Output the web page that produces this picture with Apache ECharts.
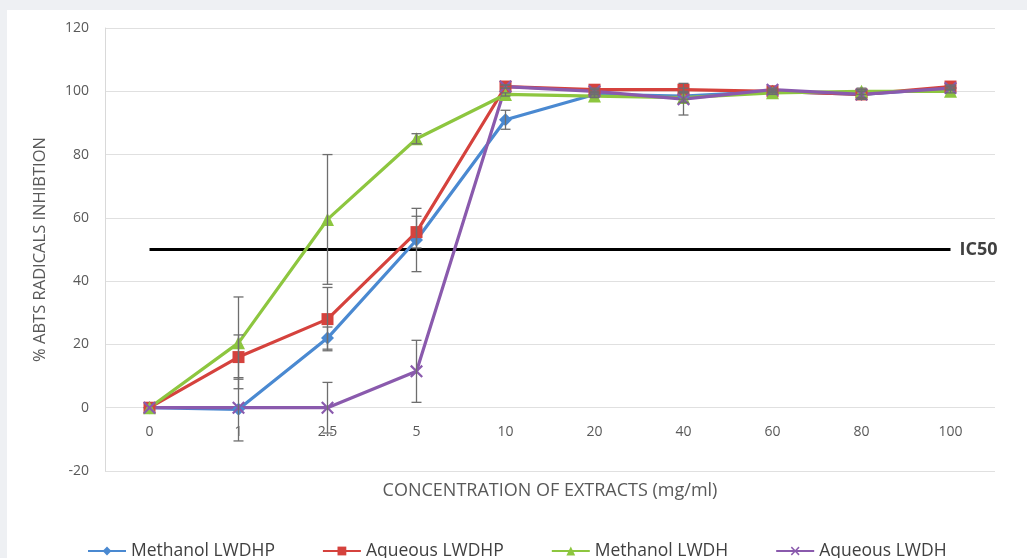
<!DOCTYPE html>
<html>
<head>
<meta charset="utf-8">
<script src="https://cdn.jsdelivr.net/npm/echarts@6/dist/echarts.min.js"></script>
<style>
  html, body { margin: 0; padding: 0; background: #eef0f3; }
  #chart { position: absolute; left: 7px; top: 10px; width: 1020px; height: 548px; background: #ffffff; }
</style>
</head>
<body>
<div id="chart"></div>
<script>
// 数据
var categories = ['0', '1', '2.5', '5', '10', '20', '40', '60', '80', '100'];

var methanolLWDHP = [0, -0.5, 22, 53, 91, 99, 98.5, 100, 99, 101];
var aqueousLWDHP  = [0, 16, 28, 55.5, 101.5, 100.5, 100.5, 100, 99, 101.5];
var methanolLWDH  = [0, 20.5, 59.5, 85, 99, 98.5, 98, 99.5, 100, 100];
var aqueousLWDH   = [0, 0, 0, 11.5, 101.5, 100, 97.5, 100.5, 99, 101];

// 误差 (±)
var errMethanolLWDHP = [0, 10, 3.5, 10, 3, 0.5, 1, 0.5, 1, 0.5];
var errAqueousLWDHP  = [0, 7, 10, 5, 0.5, 0.5, 0.5, 0.5, 1.5, 0.5];
var errMethanolLWDH  = [0, 14.5, 20.5, 1.6, 0.5, 0.5, 1.5, 0.5, 1, 0.5];
var errAqueousLWDH   = [0, 0, 8, 9.8, 0.5, 0.5, 5, 0.5, 1.5, 0.5];

var ic50 = [50, 50, 50, 50, 50, 50, 50, 50, 50, 50];

var yTicks = { min: -20, max: 120, step: 20 };

var colors = ['#4a89d1', '#d5423d', '#8dc63f', '#8a5aad'];
var xSymbol = 'path://M0,1.2 L1.2,0 L5,3.8 L8.8,0 L10,1.2 L6.2,5 L10,8.8 L8.8,10 L5,6.2 L1.2,10 L0,8.8 L3.8,5 Z';

function errData(vals, errs) {
    return vals.map(function (v, i) { return [i, v - errs[i], v + errs[i]]; });
}

function renderErr(params, api) {
    if (api.value(2) - api.value(1) < 0.001) return null;
    var lo = api.coord([api.value(0), api.value(1)]);
    var hi = api.coord([api.value(0), api.value(2)]);
    var w = 5;
    var st = { stroke: '#6e6e6e', lineWidth: 1.3 };
    return {
        type: 'group',
        children: [
            { type: 'line', shape: { x1: lo[0], y1: lo[1], x2: hi[0], y2: hi[1] }, style: st },
            { type: 'line', shape: { x1: lo[0] - w, y1: lo[1], x2: lo[0] + w, y2: lo[1] }, style: st },
            { type: 'line', shape: { x1: hi[0] - w, y1: hi[1], x2: hi[0] + w, y2: hi[1] }, style: st }
        ]
    };
}

function lineSeries(name, data, color, symbol, size) {
    return {
        name: name,
        type: 'line',
        data: data,
        symbol: symbol,
        symbolSize: size,
        showAllSymbol: true,
        lineStyle: { color: color, width: 3.2 },
        itemStyle: { color: color },
        z: 3
    };
}

function errSeries(vals, errs) {
    return {
        type: 'custom',
        renderItem: renderErr,
        data: errData(vals, errs),
        encode: { x: 0, y: [1, 2] },
        silent: true,
        z: 4
    };
}

var chart = echarts.init(document.getElementById('chart'));

var option = {
    animation: false,
    textStyle: { fontFamily: 'Open Sans' },
    grid: { left: 98, right: 32, top: 18, bottom: 87, outerBoundsMode: 'none', containLabel: false },
    legend: {
        data: ['Methanol LWDHP', 'Aqueous LWDHP', 'Methanol LWDH', 'Aqueous LWDH'],
        left: 75,
        top: 527,
        itemWidth: 38,
        itemHeight: 11,
        itemGap: 47,
        textStyle: { fontSize: 17.5, color: '#404040', fontFamily: 'Open Sans' }
    },
    xAxis: {
        type: 'category',
        data: categories,
        boundaryGap: true,
        name: 'CONCENTRATION OF EXTRACTS (mg/ml)',
        nameLocation: 'middle',
        nameGap: 11,
        nameMoveOverlap: false,
        nameTextStyle: { fontSize: 18, color: '#595959' },
        axisLine: { show: false, onZero: false },
        axisTick: { show: false },
        // labels sit just under the zero line, as in the source
        axisLabel: { fontSize: 14, color: '#595959', margin: -46 }
    },
    yAxis: {
        type: 'value',
        min: yTicks.min,
        max: yTicks.max,
        interval: yTicks.step,
        name: '% ABTS RADICALS INHIBTION',
        nameLocation: 'middle',
        nameGap: 56,
        nameTextStyle: { fontSize: 16.5, color: '#595959' },
        axisLine: { show: true, lineStyle: { color: '#d9d9d9' } },
        axisTick: { show: false },
        axisLabel: { fontSize: 14, color: '#595959', margin: 16 },
        splitLine: { lineStyle: { color: '#e0e0e0', width: 1 } }
    },
    series: [
        {
            name: 'IC50',
            type: 'line',
            data: ic50,
            symbol: 'none',
            lineStyle: { color: '#000000', width: 3 },
            endLabel: {
                show: true,
                formatter: 'IC50',
                fontSize: 18,
                fontWeight: 'bold',
                color: '#404040',
                distance: 9
            },
            z: 2
        },
        lineSeries('Methanol LWDHP', methanolLWDHP, colors[0], 'diamond', 13),
        lineSeries('Aqueous LWDHP', aqueousLWDHP, colors[1], 'rect', 12),
        lineSeries('Methanol LWDH', methanolLWDH, colors[2], 'triangle', 13),
        lineSeries('Aqueous LWDH', aqueousLWDH, colors[3], xSymbol, 13),
        errSeries(methanolLWDHP, errMethanolLWDHP),
        errSeries(aqueousLWDHP, errAqueousLWDHP),
        errSeries(methanolLWDH, errMethanolLWDH),
        errSeries(aqueousLWDH, errAqueousLWDH)
    ]
};

chart.setOption(option);
</script>
</body>
</html>
